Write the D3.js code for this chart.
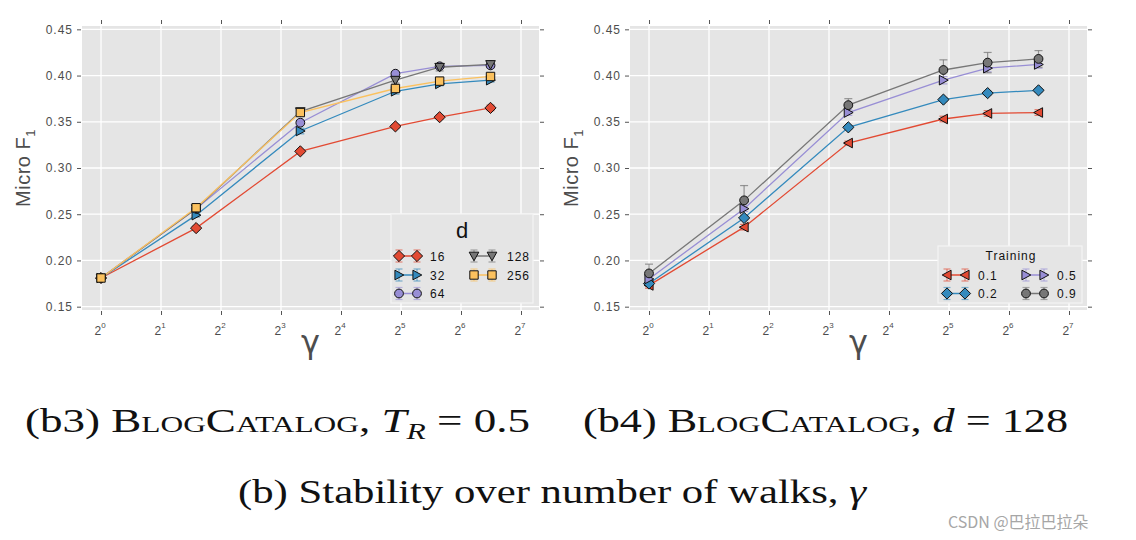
<!DOCTYPE html>
<html><head><meta charset="utf-8">
<script src="https://cdn.jsdelivr.net/npm/d3@7"></script>
<style>body{margin:0;background:#fff;} svg{display:block}</style>
</head><body><svg id="c" width="1136" height="540"></svg>
<script>
// ---------- data ----------
const gammaValues = [1, 3, 10, 30, 50, 90];
const xTickExponents = [0, 1, 2, 3, 4, 5, 6, 7];
const yTickValues = [0.15, 0.20, 0.25, 0.30, 0.35, 0.40, 0.45];

// (b3) BlogCatalog, T_R = 0.5 : series by dimension d
const dimLabels = ["16", "32", "64", "128", "256"];
const f1Dim16  = [0.181, 0.235, 0.318, 0.345, 0.355, 0.365];
const f1Dim32  = [0.181, 0.249, 0.340, 0.383, 0.391, 0.395];
const f1Dim64  = [0.181, 0.256, 0.349, 0.402, 0.410, 0.411];
const f1Dim128 = [0.181, 0.256, 0.361, 0.395, 0.409, 0.412];
const f1Dim256 = [0.181, 0.257, 0.360, 0.386, 0.394, 0.399];
const errDim16  = [0.002, 0.002, 0.002, 0.002, 0.002, 0.003];
const errDim32  = [0.002, 0.002, 0.003, 0.003, 0.002, 0.002];
const errDim64  = [0.002, 0.002, 0.002, 0.002, 0.002, 0.003];
const errDim128 = [0.002, 0.002, 0.002, 0.003, 0.004, 0.003];
const errDim256 = [0.002, 0.002, 0.002, 0.002, 0.002, 0.002];

// (b4) BlogCatalog, d = 128 : series by training ratio
const trainLabels = ["0.1", "0.2", "0.5", "0.9"];
const f1Train01 = [0.173, 0.236, 0.327, 0.353, 0.359, 0.360];
const f1Train02 = [0.175, 0.246, 0.344, 0.374, 0.381, 0.384];
const f1Train05 = [0.180, 0.256, 0.360, 0.395, 0.408, 0.412];
const f1Train09 = [0.186, 0.265, 0.368, 0.406, 0.414, 0.418];
const errTrain01 = [0.003, 0.003, 0.002, 0.003, 0.003, 0.003];
const errTrain02 = [0.002, 0.002, 0.002, 0.002, 0.002, 0.002];
const errTrain05 = [0.003, 0.003, 0.003, 0.004, 0.004, 0.004];
const errTrain09 = [0.010, 0.016, 0.007, 0.011, 0.011, 0.009];

// ---------- styles ----------
const RED = "#E24A33", BLUE = "#348ABD", PURPLE = "#988ED5", GREY = "#777777", ORANGE = "#FBC15E";
const AX = "#4d4d4d";
const SANS = "'Liberation Sans', Arial, sans-serif";
const SERIF = "'Liberation Serif', 'DejaVu Serif', serif";

const shapes = {
  diamond: r => `M0,${-r}L${r},0L0,${r}L${-r},0Z`,
  square: r => `M${-r},${-r}H${r}V${r}H${-r}Z`,
  circle: r => `M${r},0A${r},${r} 0 1,1 ${-r},0A${r},${r} 0 1,1 ${r},0Z`,
  triRight: r => `M${-r*0.85},${-r}L${r},0L${-r*0.85},${r}Z`,
  triLeft: r => `M${r*0.85},${-r}L${-r},0L${r*0.85},${r}Z`,
  triDown: r => `M${-r},${-r*0.8}L${r},${-r*0.8}L0,${r}Z`
};
const shapeSize = { diamond: 5.6, square: 4.2, circle: 4.4, triRight: 4.8, triLeft: 4.8, triDown: 4.8 };

const leftSeries = [
  { label: dimLabels[0], values: f1Dim16,  errs: errDim16,  color: RED,    shape: "diamond" },
  { label: dimLabels[1], values: f1Dim32,  errs: errDim32,  color: BLUE,   shape: "triRight" },
  { label: dimLabels[2], values: f1Dim64,  errs: errDim64,  color: PURPLE, shape: "circle" },
  { label: dimLabels[3], values: f1Dim128, errs: errDim128, color: GREY,   shape: "triDown" },
  { label: dimLabels[4], values: f1Dim256, errs: errDim256, color: ORANGE, shape: "square" }
];
const rightSeries = [
  { label: trainLabels[0], values: f1Train01, errs: errTrain01, color: RED,    shape: "triLeft" },
  { label: trainLabels[1], values: f1Train02, errs: errTrain02, color: BLUE,   shape: "diamond" },
  { label: trainLabels[2], values: f1Train05, errs: errTrain05, color: PURPLE, shape: "triRight" },
  { label: trainLabels[3], values: f1Train09, errs: errTrain09, color: GREY,   shape: "circle" }
];

const svg = d3.select("#c");

function drawMarker(g, shape, x, y, fill) {
  g.append("path").attr("d", shapes[shape](shapeSize[shape]))
    .attr("transform", `translate(${x},${y})`)
    .attr("fill", fill).attr("stroke", "#111").attr("stroke-width", 1);
}

function drawPanel(opts) {
  const { left, right, series, legend } = opts;
  const top = 26, bottom = 310;
  const x = d3.scaleLog().base(2).domain([Math.pow(2, -0.317), Math.pow(2, 7.3)]).range([left, right]);
  const y = d3.scaleLinear().domain([0.15 - 0.0036, 0.45 + 0.0036]).range([bottom, top]);
  const g = svg.append("g");

  g.append("rect").attr("x", left).attr("y", top).attr("width", right - left).attr("height", bottom - top)
    .attr("fill", "#E5E5E5");
  const xTicks = xTickExponents.map(e => Math.pow(2, e));
  g.selectAll(null).data(yTickValues).enter().append("line")
    .attr("x1", left).attr("x2", right).attr("y1", d => y(d)).attr("y2", d => y(d))
    .attr("stroke", "#fff").attr("stroke-width", 1.3);
  g.selectAll(null).data(xTicks).enter().append("line")
    .attr("y1", top).attr("y2", bottom).attr("x1", d => x(d)).attr("x2", d => x(d))
    .attr("stroke", "#fff").attr("stroke-width", 1.3);

  const axL = d3.axisLeft(y).tickValues(yTickValues).tickFormat(d3.format(".2f")).tickSize(4).tickPadding(4);
  const gl = g.append("g").attr("transform", `translate(${left - 1},0)`).call(axL);
  const axR = d3.axisRight(y).tickValues(yTickValues).tickFormat("").tickSize(4);
  const gr = g.append("g").attr("transform", `translate(${right + 1},0)`).call(axR);
  const axT = d3.axisTop(x).tickValues(xTicks).tickFormat("").tickSize(4);
  const gt = g.append("g").attr("transform", `translate(0,${top - 2})`).call(axT);
  const axB = d3.axisBottom(x).tickValues(xTicks).tickFormat("").tickSize(4);
  const gb = g.append("g").attr("transform", `translate(0,${bottom + 1})`).call(axB);
  [gl, gr, gt, gb].forEach(a => {
    a.select(".domain").remove();
    a.selectAll(".tick line").attr("stroke", "#555").attr("stroke-width", 1);
  });
  gl.selectAll(".tick text").attr("fill", AX).attr("font-family", SANS).attr("font-size", 12)
    .attr("letter-spacing", 1);

  xTickExponents.forEach(e => {
    const t = g.append("text").attr("x", x(Math.pow(2, e)) - 1).attr("y", 335)
      .attr("text-anchor", "middle").attr("font-family", SANS).attr("fill", AX);
    t.append("tspan").attr("font-size", 12).text("2");
    t.append("tspan").attr("font-size", 8).attr("dy", -7).text(String(e));
  });

  const yt = g.append("text").attr("transform", `translate(${left - 52},168) rotate(-90)`)
    .attr("text-anchor", "middle").attr("font-family", SANS).attr("fill", AX).attr("font-size", 20)
    .attr("letter-spacing", 0.5);
  yt.append("tspan").text("Micro F");
  yt.append("tspan").attr("font-size", 13).attr("dy", 5).text("1");
  g.append("text").attr("x", (left + right) / 2).attr("y", 353).attr("text-anchor", "middle")
    .attr("font-family", "'DejaVu Sans', sans-serif").attr("font-size", 32).attr("fill", AX).text("γ");

  const line = d3.line().x((d, i) => x(gammaValues[i])).y(d => y(d));
  series.forEach(s => {
    g.append("path").attr("d", line(s.values)).attr("fill", "none")
      .attr("stroke", s.color).attr("stroke-width", 1.3);
  });
  series.forEach(s => {
    s.values.forEach((v, i) => {
      const cx = x(gammaValues[i]);
      const eg = g.append("g").attr("stroke", s.color).attr("stroke-width", 1.2).attr("stroke-opacity", 0.75);
      eg.append("line").attr("x1", cx).attr("x2", cx).attr("y1", y(v - s.errs[i])).attr("y2", y(v + s.errs[i]));
      eg.append("line").attr("x1", cx - 4).attr("x2", cx + 4).attr("y1", y(v - s.errs[i])).attr("y2", y(v - s.errs[i]));
      eg.append("line").attr("x1", cx - 4).attr("x2", cx + 4).attr("y1", y(v + s.errs[i])).attr("y2", y(v + s.errs[i]));
    });
  });
  series.forEach(s => {
    s.values.forEach((v, i) => drawMarker(g, s.shape, x(gammaValues[i]), y(v), s.color));
  });

  const L = legend;
  g.append("rect").attr("x", L.x0).attr("y", L.y0).attr("width", L.x1 - L.x0).attr("height", L.y1 - L.y0)
    .attr("fill", "#E5E5E5").attr("stroke", "#f4f4f4").attr("stroke-width", 1.2);
  g.append("text").attr("x", L.titleX).attr("y", L.titleY).attr("text-anchor", "middle")
    .attr("font-family", SANS).attr("font-size", L.titleSize).attr("fill", "#111")
    .attr("letter-spacing", L.titleSize < 15 ? 1 : 0).text(L.title);
  L.entries.forEach((en, k) => {
    const s = series[k];
    const eg = g.append("g");
    eg.append("line").attr("x1", en.m1).attr("x2", en.m2).attr("y1", en.y).attr("y2", en.y)
      .attr("stroke", s.color).attr("stroke-width", 1.5);
    [en.m1, en.m2].forEach(mx => {
      const bg = eg.append("g").attr("stroke", s.color).attr("stroke-width", 1.2).attr("stroke-opacity", 0.6);
      bg.append("line").attr("x1", mx).attr("x2", mx).attr("y1", en.y - 6).attr("y2", en.y + 6);
      bg.append("line").attr("x1", mx - 3.5).attr("x2", mx + 3.5).attr("y1", en.y - 6).attr("y2", en.y - 6);
      bg.append("line").attr("x1", mx - 3.5).attr("x2", mx + 3.5).attr("y1", en.y + 6).attr("y2", en.y + 6);
    });
    [en.m1, en.m2].forEach(mx => drawMarker(eg, s.shape, mx, en.y, s.color));
    eg.append("text").attr("x", en.tx).attr("y", en.y + 4.5).attr("font-family", SANS)
      .attr("font-size", 12).attr("letter-spacing", 1).attr("fill", "#111").text(s.label);
  });
}

drawPanel({
  left: 82, right: 539, series: leftSeries,
  legend: {
    x0: 391, x1: 533, y0: 214, y1: 303, title: "d", titleX: 462, titleY: 238, titleSize: 22,
    entries: [
      { m1: 399, m2: 417, tx: 430, y: 256 },
      { m1: 399, m2: 417, tx: 430, y: 275 },
      { m1: 399, m2: 417, tx: 430, y: 293.5 },
      { m1: 474, m2: 492, tx: 507, y: 256 },
      { m1: 474, m2: 492, tx: 507, y: 275 }
    ]
  }
});
drawPanel({
  left: 630, right: 1087, series: rightSeries,
  legend: {
    x0: 938, x1: 1082, y0: 246, y1: 303, title: "Training", titleX: 1011, titleY: 260, titleSize: 12,
    entries: [
      { m1: 947, m2: 965, tx: 978, y: 275 },
      { m1: 947, m2: 965, tx: 978, y: 293.5 },
      { m1: 1026, m2: 1044, tx: 1057, y: 275 },
      { m1: 1026, m2: 1044, tx: 1057, y: 293.5 }
    ]
  }
});

// ---------- captions ----------
function caption(parts, x0, targetW, baseline, size) {
  const t = svg.append("text").attr("x", x0).attr("y", baseline).attr("font-family", SERIF)
    .attr("font-size", size).attr("fill", "#111");
  parts.forEach(p => {
    const ts = t.append("tspan").text(p.t);
    if (p.sc) ts.attr("font-variant", "small-caps");
    if (p.it) ts.attr("font-style", "italic");
    if (p.sub) ts.attr("font-size", size * 0.7).attr("dy", size * 0.2);
    if (p.up) ts.attr("dy", -size * 0.2);
  });
  t.attr("textLength", targetW).attr("lengthAdjust", "spacingAndGlyphs");
  return t;
}
caption([{ t: "(b3) " }, { t: "BlogCatalog", sc: true }, { t: ", " }, { t: "T", it: true }, { t: "R", it: true, sub: true },
  { t: " = 0.5", up: true }], 25, 505, 432, 33);
caption([{ t: "(b4) " }, { t: "BlogCatalog", sc: true }, { t: ", " }, { t: "d", it: true }, { t: " = 128" }], 583, 485, 432, 33);
caption([{ t: "(b) Stability over number of walks, " }, { t: "γ", it: true }], 238, 628, 503, 33);

svg.append("text").attr("x", 948).attr("y", 528).attr("font-family", "'Noto Sans CJK SC', sans-serif")
  .attr("font-size", 16).attr("fill", "#a6a6a6").text("CSDN @巴拉巴拉朵");
</script>
</body></html>
